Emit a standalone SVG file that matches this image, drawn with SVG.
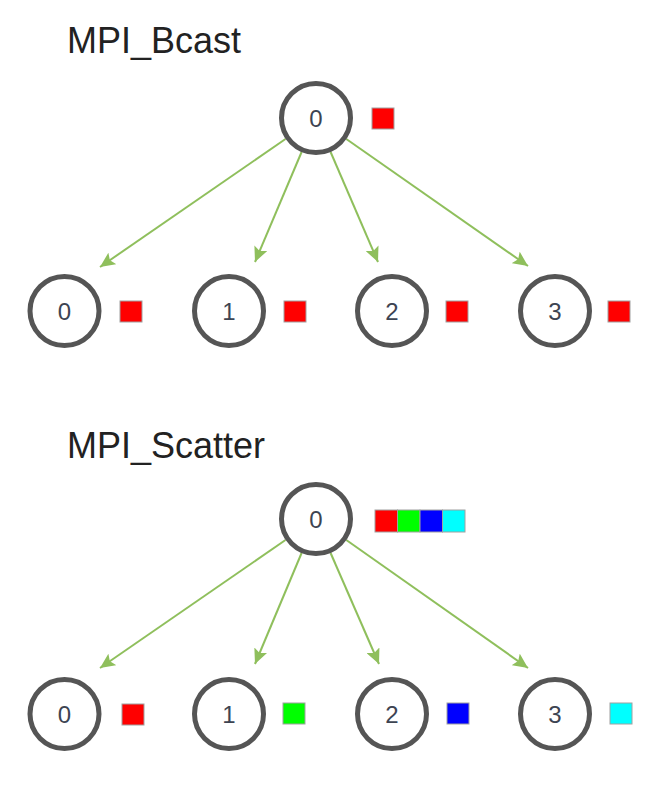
<svg xmlns="http://www.w3.org/2000/svg" width="651" height="789" viewBox="0 0 651 789">
<style>
.title{font-family:"Liberation Sans",Arial,sans-serif;font-size:36px;fill:#222}
.node circle{fill:#fff;stroke:#555;stroke-width:5}
.node text{font-family:"Liberation Sans",Arial,sans-serif;font-size:24px;fill:#3d4452;text-anchor:middle}
.edge{stroke:#8fbf5c;stroke-width:2;fill:none;marker-end:url(#arr)}
.sq{stroke:#a0a0a0;stroke-width:1}
</style>
<defs>
<marker id="arr" markerUnits="userSpaceOnUse" markerWidth="16" markerHeight="14" refX="15" refY="7" orient="auto">
<path d="M0,0 L15,7 L0,14 L3,7 Z" fill="#8fbf5c"/>
</marker>
</defs>
<rect width="651" height="789" fill="#fff"/>
<text class="title" x="67" y="53">MPI_Bcast</text>
<text class="title" x="67" y="458">MPI_Scatter</text>
<g id="connectors">
<line class="edge" x1="285.5" y1="139" x2="100" y2="267"/>
<line class="edge" x1="301.6" y1="152" x2="255" y2="262"/>
<line class="edge" x1="330.6" y1="152" x2="378" y2="262"/>
<line class="edge" x1="346.3" y1="139" x2="528" y2="266"/>
<line class="edge" x1="285.5" y1="540" x2="100" y2="668"/>
<line class="edge" x1="301.6" y1="553" x2="255" y2="664"/>
<line class="edge" x1="330.6" y1="553" x2="379" y2="664"/>
<line class="edge" x1="346.3" y1="540" x2="528" y2="668"/>
</g>
<g id="bcast-root" class="node"><circle cx="316" cy="118" r="34.5"/><text x="316" y="127">0</text><rect class="sq" x="372" y="108" width="22" height="21" fill="#ff0000"/></g>
<g id="bcast-0" class="node"><circle cx="64.5" cy="311" r="34.5"/><text x="64.5" y="320">0</text><rect class="sq" x="120" y="301" width="22" height="21" fill="#ff0000"/></g>
<g id="bcast-1" class="node"><circle cx="229" cy="311" r="34.5"/><text x="229" y="320">1</text><rect class="sq" x="284" y="301" width="22" height="21" fill="#ff0000"/></g>
<g id="bcast-2" class="node"><circle cx="392" cy="311" r="34.5"/><text x="392" y="320">2</text><rect class="sq" x="446" y="301" width="22" height="21" fill="#ff0000"/></g>
<g id="bcast-3" class="node"><circle cx="555" cy="311" r="34.5"/><text x="555" y="320">3</text><rect class="sq" x="608" y="301" width="22" height="21" fill="#ff0000"/></g>
<g id="scatter-root" class="node"><circle cx="316" cy="519" r="34.5"/><text x="316" y="528">0</text>
<rect class="sq" x="375" y="510" width="22.5" height="22" fill="#ff0000"/>
<rect class="sq" x="397.5" y="510" width="22.5" height="22" fill="#00ff00"/>
<rect class="sq" x="420" y="510" width="22.5" height="22" fill="#0000ff"/>
<rect class="sq" x="442.5" y="510" width="22.5" height="22" fill="#00ffff"/></g>
<g id="scatter-0" class="node"><circle cx="64.5" cy="714" r="34.5"/><text x="64.5" y="723">0</text><rect class="sq" x="122" y="704" width="22" height="21" fill="#ff0000"/></g>
<g id="scatter-1" class="node"><circle cx="229" cy="714" r="34.5"/><text x="229" y="723">1</text><rect class="sq" x="283" y="703" width="22" height="21" fill="#00ff00"/></g>
<g id="scatter-2" class="node"><circle cx="392" cy="714" r="34.5"/><text x="392" y="723">2</text><rect class="sq" x="447" y="703" width="22" height="21" fill="#0000ff"/></g>
<g id="scatter-3" class="node"><circle cx="555" cy="714" r="34.5"/><text x="555" y="723">3</text><rect class="sq" x="610" y="703" width="22" height="21" fill="#00ffff"/></g>
</svg>
